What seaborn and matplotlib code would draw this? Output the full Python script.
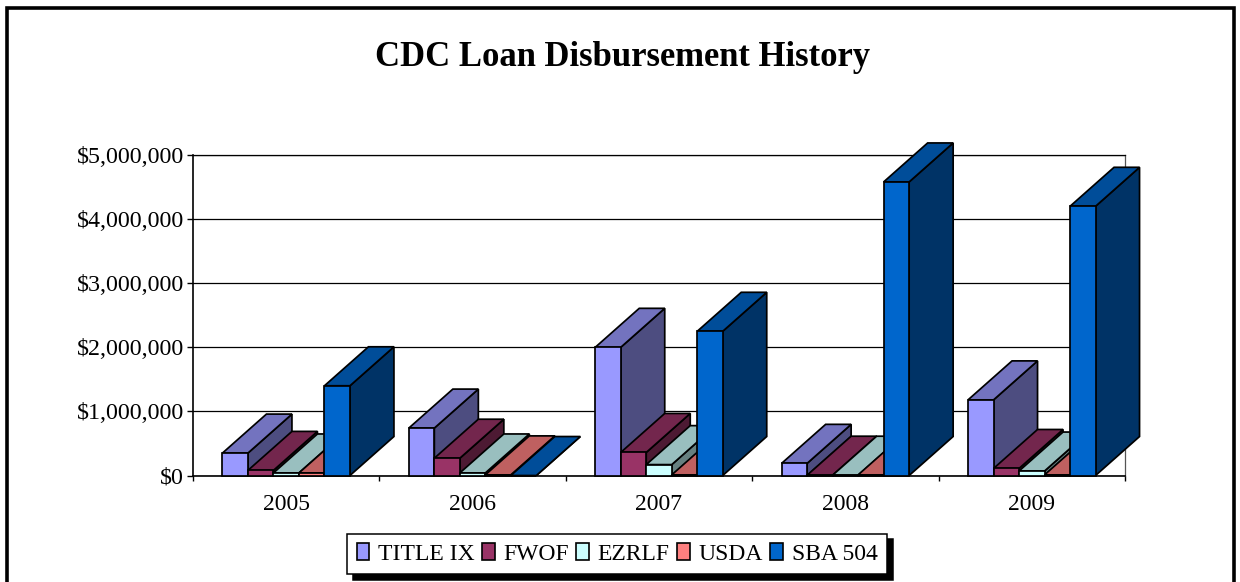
import seaborn as sns
import matplotlib.pyplot as plt
import pandas as pd
from matplotlib.colors import to_rgb
from matplotlib.patches import Polygon, Rectangle, Patch

years = ["2005", "2006", "2007", "2008", "2009"]
series_names = ["TITLE IX", "FWOF", "EZRLF", "USDA", "SBA 504"]
title_ix = [350000, 740000, 2000000, 190000, 1180000]
fwof = [80000, 270000, 360000, 5000, 110000]
ezrlf = [40000, 40000, 170000, 5000, 70000]
usda = [40000, 10000, 10000, 10000, 10000]
sba_504 = [1400000, 0, 2250000, 4580000, 4200000]
colors = ["#9999FF", "#993366", "#CCFFFF", "#FF8080", "#0066CC"]
y_ticks = [0, 1000000, 2000000, 3000000, 4000000, 5000000]

# how far the bars go "back", in data units
depth_x = 0.236
depth_y = 608000

sns.set_style("white")
plt.rcParams["font.family"] = ["Liberation Serif", "DejaVu Serif"]

rows = []
for name, values in zip(series_names, [title_ix, fwof, ezrlf, usda, sba_504]):
    for year, value in zip(years, values):
        rows.append({"year": year, "series": name, "amount": value})
df = pd.DataFrame(rows)

W, H = 1240, 582
fig = plt.figure(figsize=(W / 100, H / 100), dpi=100)
ax = fig.add_axes([193 / W, 1 - 475.5 / H, 932 / W, 320.5 / H])

sns.barplot(data=df, x="year", y="amount", hue="series", hue_order=series_names,
            palette=colors, width=0.684, gap=0, saturation=1, dodge=True,
            edgecolor="black", linewidth=1.25, legend=False, ax=ax, zorder=30, clip_on=False)


def shade(color, factor):
    return tuple(c * factor for c in to_rgb(color))


# side and top faces from the bars seaborn drew
for i, container in enumerate(ax.containers):
    for bar in container:
        bar.set_clip_on(False)
        x0 = bar.get_x()
        x1 = x0 + bar.get_width()
        top = bar.get_height()
        side = Polygon([(x1, 0), (x1 + depth_x, depth_y), (x1 + depth_x, top + depth_y), (x1, top)],
                       facecolor=shade(colors[i], 0.5), edgecolor="black", linewidth=1.25,
                       zorder=5 + i, clip_on=False)
        roof = Polygon([(x0, top), (x0 + depth_x, top + depth_y), (x1 + depth_x, top + depth_y), (x1, top)],
                       facecolor=shade(colors[i], 0.75), edgecolor="black", linewidth=1.25,
                       zorder=5 + i, clip_on=False)
        ax.add_patch(side)
        ax.add_patch(roof)

ax.set_xlim(-0.5, 4.5)
ax.set_ylim(0, 5000000)
ax.set_yticks(y_ticks)
ax.set_yticklabels([f"${v:,}" for v in y_ticks])
ax.set_xticks([i - 0.5 for i in range(6)], minor=True)
ax.set_xlabel("")
ax.set_ylabel("")
ax.tick_params(axis="x", which="major", length=0, labelsize=17, pad=13, colors="black")
ax.tick_params(axis="x", which="minor", length=3.5, width=1, bottom=True, colors="black")
ax.tick_params(axis="y", length=4.5, width=1, left=True, labelsize=17.3, pad=2, colors="black")
ax.grid(axis="y", color="black", linewidth=0.9, zorder=1)
ax.set_axisbelow(True)
for spine in ax.spines.values():
    spine.set_visible(True)
    spine.set_color("black")
    spine.set_linewidth(0.9)
    spine.set_zorder(2)
ax.spines["left"].set_linewidth(1.2)
ax.spines["bottom"].set_linewidth(1.2)
ax.spines["right"].set_color("#555555")

fig.text(623 / W, 1 - 57 / H, "CDC Loan Disbursement History", ha="center", va="center",
         fontsize=24.9, fontweight="bold", color="black")

handles = [Patch(facecolor=c, edgecolor="black", linewidth=1.2, label=n)
           for c, n in zip(colors, series_names)]
legend = fig.legend(handles=handles, ncol=5, loc="center", bbox_to_anchor=(617 / W, 1 - 554 / H),
                    frameon=True, fancybox=False, edgecolor="black", framealpha=1, labelcolor="black",
                    shadow={"color": "black", "alpha": 1, "ox": 4.5, "oy": -4},
                    fontsize=17, handlelength=0.55, handleheight=0.75, handletextpad=0.35,
                    columnspacing=0.32, borderpad=0.4, borderaxespad=0)
legend.get_frame().set_linewidth(1.1)

# chart frame, bottom edge runs off the picture
fig.add_artist(Rectangle((7 / W, -0.05), 1227 / W, 1.05 - 7.7 / H, transform=fig.transFigure,
                         fill=False, edgecolor="black", linewidth=2.6))

fig.savefig("out.png", dpi=100, facecolor="white")
